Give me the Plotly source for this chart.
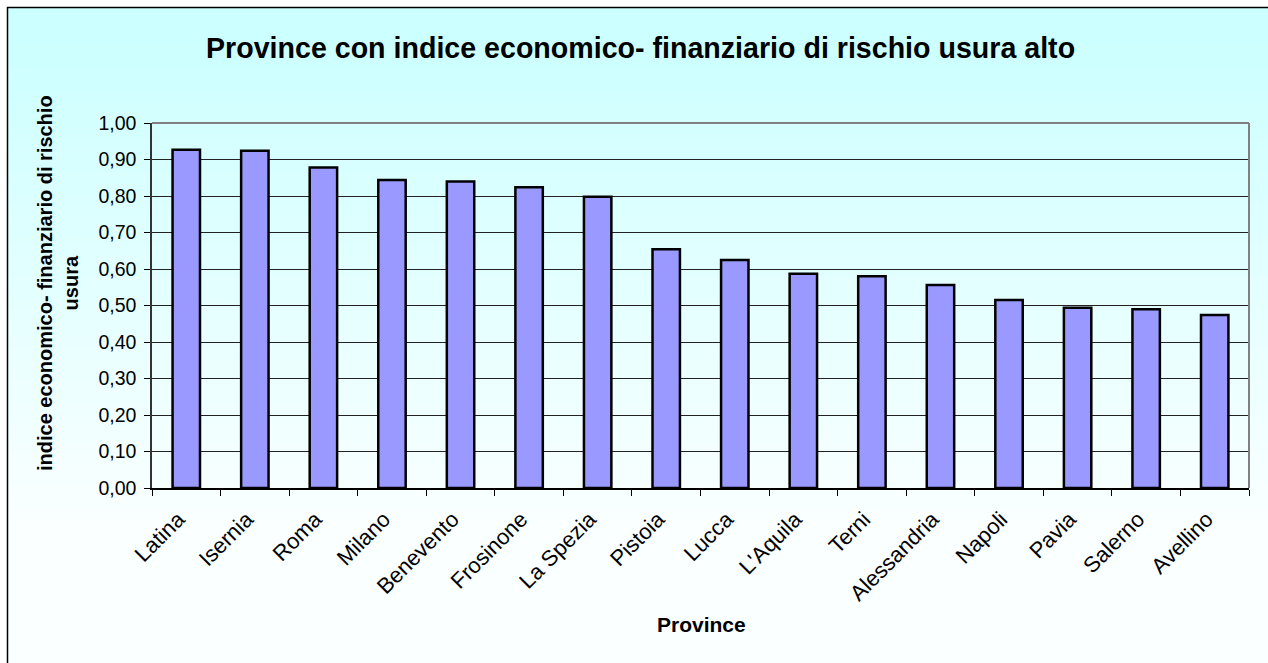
import plotly.graph_objects as go

# Province and their economic-financial usury risk index
province = ["Latina", "Isernia", "Roma", "Milano", "Benevento", "Frosinone",
            "La Spezia", "Pistoia", "Lucca", "L'Aquila", "Terni", "Alessandria",
            "Napoli", "Pavia", "Salerno", "Avellino"]
indice = [0.927, 0.924, 0.878, 0.844, 0.840, 0.824, 0.798, 0.654,
          0.625, 0.587, 0.580, 0.556, 0.515, 0.494, 0.490, 0.474]
y_ticks = [0.0, 0.1, 0.2, 0.3, 0.4, 0.5, 0.6, 0.7, 0.8, 0.9, 1.0]

W, H = 1268, 663
L, R, T, B = 152, 19, 123, 175
PW, PH = W - L - R, H - T - B
FONT = "Liberation Sans, Arial, sans-serif"


def px_x(px):
    return (px - L) / PW


def px_y(py):
    return (H - B - py) / PH


fig = go.Figure(go.Bar(
    x=province, y=indice,
    marker=dict(color="#9999FF", line=dict(color="black", width=2.5)),
    width=0.4,
))

shapes = []
# vertical gradient background, cyan at the top fading to near white
n = 120
top_px, bot_px = 7, H + 5
for i in range(n):
    y0 = top_px + (bot_px - top_px) * i / n
    y1 = top_px + (bot_px - top_px) * (i + 1) / n + 0.6
    t = min(1.0, max(0.0, (y0 - 40) / 480))
    r = int(round(204 + (250 - 204) * t))
    shapes.append(dict(type="rect", xref="paper", yref="paper", layer="below",
                       x0=px_x(top_px), x1=px_x(W + 5), y0=px_y(y1), y1=px_y(y0),
                       line=dict(width=0), fillcolor=f"rgb({r},255,255)"))
# outer chart border
shapes.append(dict(type="rect", xref="paper", yref="paper", layer="above",
                   x0=px_x(7.5), x1=px_x(W + 10), y0=px_y(H + 10), y1=px_y(7.5),
                   line=dict(color="black", width=1.5), fillcolor="rgba(0,0,0,0)"))
# plot area frame (top and right in grey)
shapes.append(dict(type="line", xref="paper", yref="paper", layer="above",
                   x0=0, x1=1, y0=1, y1=1, line=dict(color="#808080", width=2)))
shapes.append(dict(type="line", xref="paper", yref="paper", layer="above",
                   x0=1, x1=1, y0=0, y1=1, line=dict(color="#808080", width=2)))

annotations = [
    dict(text="<b>Province con indice economico- finanziario di rischio usura alto</b>",
         xref="paper", yref="paper", x=px_x(640), y=px_y(48), showarrow=False,
         xanchor="center", yanchor="middle", font=dict(size=28.6, color="black", family=FONT)),
    dict(text="<b>indice economico- finanziario di rischio<br>usura</b>",
         xref="paper", yref="paper", x=px_x(58), y=px_y(283), showarrow=False,
         textangle=-90, xanchor="center", yanchor="middle",
         font=dict(size=20, color="black", family=FONT)),
    dict(text="<b>Province</b>",
         xref="paper", yref="paper", x=px_x(701), y=px_y(624), showarrow=False,
         xanchor="center", yanchor="middle", font=dict(size=21, color="black", family=FONT)),
]

fig.update_layout(
    width=W, height=H,
    margin=dict(l=L, r=R, t=T, b=B, autoexpand=False),
    paper_bgcolor="white",
    plot_bgcolor="rgba(0,0,0,0)",
    separators=",.",
    showlegend=False,
    shapes=shapes,
    annotations=annotations,
    font=dict(family=FONT, color="black", size=19),
    bargap=0.6,
)
fig.update_xaxes(
    type="category", tickangle=-45, tickson="boundaries",
    ticks="outside", ticklen=6, tickcolor="black",
    ticklabelstandoff=8, ticklabelshift=-8,
    showline=True, linecolor="black", linewidth=1.5,
    showgrid=False, tickfont=dict(size=22, family=FONT, color="black"),
)
fig.update_yaxes(
    range=[0, 1.0], tickvals=y_ticks, tickformat=".2f",
    ticks="outside", ticklen=6, tickcolor="black",
    ticklabelstandoff=4,
    showline=True, linecolor="#333333", linewidth=1.5,
    showgrid=True, gridcolor="#222222", gridwidth=1,
    zeroline=False, tickfont=dict(size=19.5, family=FONT, color="black"),
)

fig.write_html("out.html")
